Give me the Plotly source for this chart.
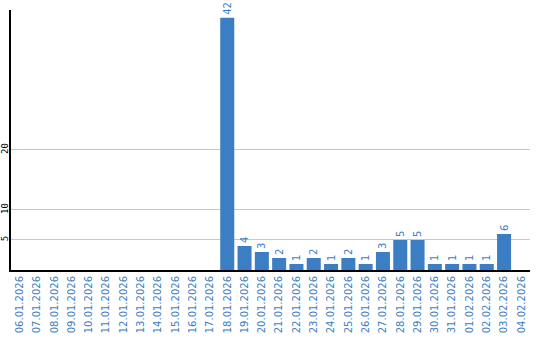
import plotly.graph_objects as go

dates = ["06.01.2026","07.01.2026","08.01.2026","09.01.2026","10.01.2026","11.01.2026",
         "12.01.2026","13.01.2026","14.01.2026","15.01.2026","16.01.2026","17.01.2026",
         "18.01.2026","19.01.2026","20.01.2026","21.01.2026","22.01.2026","23.01.2026",
         "24.01.2026","25.01.2026","26.01.2026","27.01.2026","28.01.2026","29.01.2026",
         "30.01.2026","31.01.2026","01.02.2026","02.02.2026","03.02.2026","04.02.2026"]
values = [0,0,0,0,0,0,0,0,0,0,0,0,42,4,3,2,1,2,1,2,1,3,5,5,1,1,1,1,6,0]
y_ticks = [5, 10, 20]

blue = "#3b7ec4"
fig = go.Figure(go.Bar(
    x=dates, y=values,
    marker=dict(color=blue, line=dict(width=0)),
    text=[str(v) if v else "" for v in values],
    textposition="outside", textangle=-90,
    textfont=dict(family="DejaVu Sans", size=10, color=blue),
    cliponaxis=False,
))
fig.update_layout(
    width=540, height=340,
    margin=dict(l=11, r=10, t=10, b=70),
    paper_bgcolor="white", plot_bgcolor="white",
    bargap=0.19, showlegend=False,
    xaxis=dict(type="category", tickangle=-90, showgrid=False, ticks="",
               automargin=False,
               showline=True, linecolor="black", linewidth=2,
               tickfont=dict(family="DejaVu Sans", size=10, color=blue)),
    yaxis=dict(range=[0, 43.3], tickvals=y_ticks, tickangle=-90, ticks="",
               automargin=False, ticklabelstandoff=-3,
               showgrid=True, gridcolor="#c8c8c8", gridwidth=1, zeroline=False,
               showline=True, linecolor="black", linewidth=2,
               tickfont=dict(family="DejaVu Sans Mono", size=9, color="black")),
)
fig.write_html("out.html")
